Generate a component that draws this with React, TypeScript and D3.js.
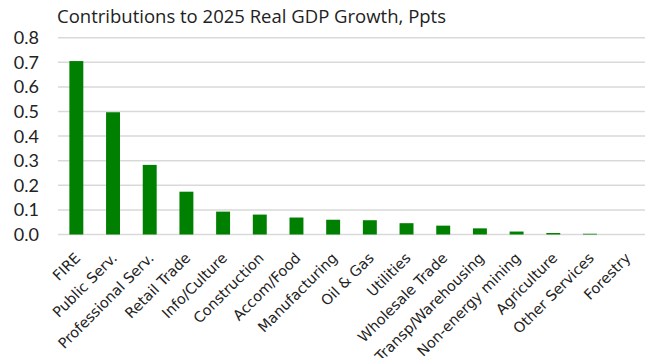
import React from "react";
import * as d3 from "d3";

const categories = [
  "FIRE",
  "Public Serv.",
  "Professional Serv.",
  "Retail Trade",
  "Info/Culture",
  "Construction",
  "Accom/Food",
  "Manufacturing",
  "Oil & Gas",
  "Utilities",
  "Wholesale Trade",
  "Transp/Warehousing",
  "Non-energy mining",
  "Agriculture",
  "Other Services",
  "Forestry",
];
const values = [0.705, 0.497, 0.283, 0.174, 0.093, 0.081, 0.069, 0.06, 0.058, 0.046, 0.036, 0.025, 0.012, 0.006, 0.003, 0];
const yTicks = [0, 0.1, 0.2, 0.3, 0.4, 0.5, 0.6, 0.7, 0.8];
const title = "Contributions to 2025 Real GDP Growth, Ppts";

const W = 645;
const H = 358;
const FONT = "'Open Sans', Lato, sans-serif";

export default function App() {
  const x = d3
    .scaleBand<string>()
    .domain(categories)
    .range([58, 645])
    .paddingInner(0.62)
    .paddingOuter(0.31);
  const y = d3.scaleLinear().domain([0, 0.8]).range([234.5, 37.7]);

  return (
    <svg
      width={W}
      height={H}
      style={{ position: "absolute", left: 0, top: 0, background: "#fff" }}
      fontFamily={FONT}
    >
      <text x={57} y={23} fontSize={17.5} fill="#222" textLength={389} lengthAdjust="spacingAndGlyphs">
        {title}
      </text>
      {yTicks.map((t) => (
        <g key={t}>
          <line x1={58} x2={645} y1={y(t)} y2={y(t)} stroke="#d9d9d9" strokeWidth={1.5} />
          <text x={39} y={y(t)} dy="0.36em" textAnchor="end" fontSize={18} fontFamily="Lato, sans-serif" fill="#222">
            {t.toFixed(1)}
          </text>
        </g>
      ))}
      {categories.map((c, i) => (
        <rect
          key={c}
          x={x(c)}
          width={x.bandwidth()}
          y={y(values[i])}
          height={y(0) - y(values[i])}
          fill="#008000"
        />
      ))}
      {categories.map((c) => {
        const cx = (x(c) as number) + x.bandwidth() / 2 + 5;
        const cy = 259;
        return (
          <text
            key={c}
            transform={`translate(${cx},${cy}) rotate(-45)`}
            textAnchor="end"
            fontSize={14.5}
            fontFamily="'DejaVu Sans', sans-serif"
            fill="#222"
          >
            {c}
          </text>
        );
      })}
    </svg>
  );
}
